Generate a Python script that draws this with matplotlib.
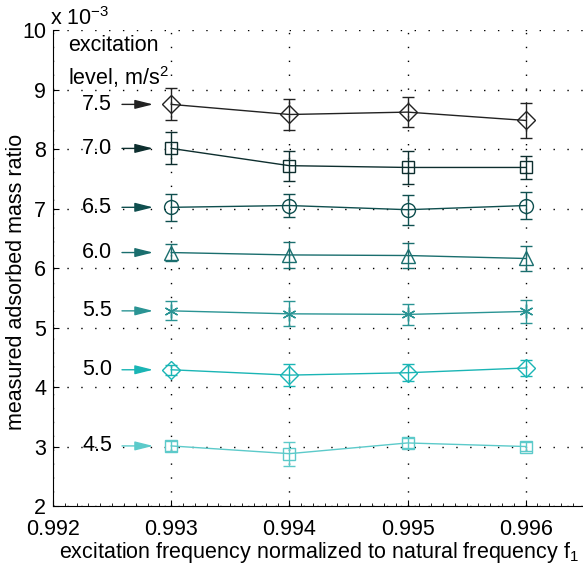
import numpy as np
import matplotlib
matplotlib.use("Agg")
import matplotlib.pyplot as plt
from matplotlib.ticker import MultipleLocator

plt.rcParams['font.family'] = ['Liberation Sans', 'DejaVu Sans']
plt.rcParams['mathtext.fontset'] = 'custom'
plt.rcParams['mathtext.rm'] = 'Liberation Sans'
plt.rcParams['mathtext.it'] = 'Liberation Sans'

# data (mass ratio in units of 1e-3)
freq = [0.993, 0.994, 0.995, 0.996]
levels = ["7.5", "7.0", "6.5", "6.0", "5.5", "5.0", "4.5"]
ratio_75 = [8.75, 8.58, 8.62, 8.48]
err_75 = [0.27, 0.26, 0.25, 0.30]
ratio_70 = [8.01, 7.72, 7.69, 7.69]
err_70 = [0.27, 0.25, 0.27, 0.20]
ratio_65 = [7.02, 7.05, 6.98, 7.05]
err_65 = [0.23, 0.20, 0.25, 0.22]
ratio_60 = [6.26, 6.22, 6.21, 6.16]
err_60 = [0.15, 0.22, 0.21, 0.21]
ratio_55 = [5.28, 5.23, 5.22, 5.27]
err_55 = [0.16, 0.21, 0.18, 0.20]
ratio_50 = [4.29, 4.20, 4.24, 4.32]
err_50 = [0.08, 0.18, 0.14, 0.14]
ratio_45 = [3.01, 2.88, 3.06, 3.00]
err_45 = [0.08, 0.20, 0.08, 0.08]

ratios = [ratio_75, ratio_70, ratio_65, ratio_60, ratio_55, ratio_50, ratio_45]
errs = [err_75, err_70, err_65, err_60, err_55, err_50, err_45]
colors = ["#222222", "#0d2e2e", "#0f4f4f", "#1a6e6e", "#2a9494", "#1ab5b5", "#5ccaca"]
markers = ["D", "s", "o", "^", (6, 2, 0), "D", "s"]
msizes = [9, 9, 10, 10, 10, 9, 8]

fs = 15.5

fig = plt.figure(figsize=(5.83, 5.64), dpi=100)
ax = fig.add_axes([0.091, 0.1028, 0.912, 0.844])

for r, e, c, m, ms in zip(ratios, errs, colors, markers, msizes):
    ax.errorbar(freq, r, yerr=e, color=c, marker=m, ms=ms, mfc='none', mec=c,
                mew=1.0, lw=1.0, elinewidth=1.0, capsize=4.5, capthick=1.0, zorder=3)

# level labels with arrows
for lab, r, c in zip(levels, ratios, colors):
    ax.text(0.99250, r[0], lab, ha='right', va='center', fontsize=fs)
    ax.annotate('', xy=(0.99287, r[0]), xytext=(0.99256, r[0]),
                arrowprops=dict(arrowstyle='-|>,head_length=1.0,head_width=0.25',
                                color=c, lw=1.0, mutation_scale=11))

ax.text(0.028, 0.99, "excitation\nlevel, m/s$^2$", transform=ax.transAxes,
        ha='left', va='top', fontsize=fs, linespacing=1.4)
ax.text(-0.006, 1.0, "x $10^{-3}$", transform=ax.transAxes, ha='left', va='bottom',
        fontsize=fs)

ax.set_xlim(0.992, 0.9965)
ax.set_ylim(2, 10)
ax.set_xticks([0.992, 0.993, 0.994, 0.995, 0.996])
ax.set_xticklabels(["0.992", "0.993", "0.994", "0.995", "0.996"])
ax.set_yticks([2, 3, 4, 5, 6, 7, 8, 9, 10])
ax.xaxis.set_minor_locator(MultipleLocator(0.0001))
ax.tick_params(axis='both', which='major', direction='in', length=4, labelsize=fs, pad=5)
ax.tick_params(axis='x', which='major', pad=9)
ax.tick_params(axis='x', which='minor', direction='in', length=2)
ax.grid(True, which='major', color='black', linestyle=(0, (1, 9)), linewidth=1.0)
ax.spines['top'].set_visible(False)
ax.spines['right'].set_visible(False)

ax.set_xlabel("excitation frequency normalized to natural frequency f$_1$", fontsize=fs, labelpad=0)
ax.set_ylabel("measured adsorbed mass ratio", fontsize=fs)
ax.yaxis.set_label_coords(-0.049, 0.47)

fig.savefig("out.png", dpi=100)
